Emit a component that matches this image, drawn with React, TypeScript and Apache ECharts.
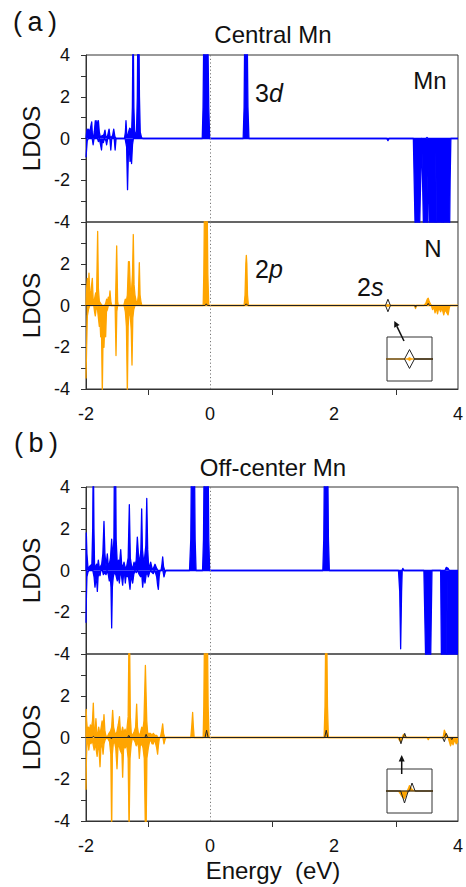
import React, { useEffect, useRef } from 'react';
import * as echarts from 'echarts';

// ---------- data ----------
const X_LABELS = [-2, 0, 2, 4];
const Y_LABELS = [4, 2, 0, -2, -4];

// (a) Central Mn : Mn 3d
const MN_A_UP = [[-2.0,0],[-1.99,0.3],[-1.98,0.45],[-1.97,0.25],[-1.955,0.45],[-1.94,0.15],[-1.925,0.55],[-1.908,0.8],[-1.895,0.1],[-1.88,0.05],[-1.865,0.35],[-1.85,0.85],[-1.84,0.3],[-1.825,0.85],[-1.812,0.4],[-1.8,0.85],[-1.785,0.3],[-1.77,0.1],[-1.755,0.05],[-1.74,0.15],[-1.725,0.1],[-1.71,0.2],[-1.694,0.4],[-1.68,0.1],[-1.665,0.05],[-1.65,0.15],[-1.628,0.45],[-1.613,0.1],[-1.59,0.05],[-1.57,0.15],[-1.553,0.45],[-1.535,0.1],[-1.515,0],[-1.38,0],[-1.365,0.3],[-1.355,0.85],[-1.343,0.2],[-1.328,0.1],[-1.31,0.35],[-1.295,0.5],[-1.28,0.45],[-1.265,0.2],[-1.252,1.5],[-1.24,6],[-1.228,1.5],[-1.215,0.3],[-1.2,0.1],[-1.185,0.4],[-1.172,2],[-1.162,6],[-1.148,6],[-1.138,2],[-1.125,0.3],[-1.105,0.05],[-1.085,0],[-0.125,0],[-0.112,1.5],[-0.1,5],[-0.065,7],[-0.035,5],[-0.02,1.5],[-0.005,0],[0.535,0],[0.55,1.5],[0.56,5],[0.58,7],[0.6,5],[0.612,1.5],[0.628,0],[3.48,0],[3.5,0.05],[3.52,0],[4,0]];
const MN_A_DN = [[-2.0,-0.9],[-1.99,-0.5],[-1.98,-0.1],[-1.96,0],[-1.9,0],[-1.885,-0.3],[-1.87,0],[-1.815,0],[-1.8,-0.15],[-1.785,0],[-1.765,-0.3],[-1.75,-0.55],[-1.737,-0.1],[-1.72,-0.2],[-1.705,0],[-1.68,-0.1],[-1.667,-0.3],[-1.65,0],[-1.615,0],[-1.6,-0.55],[-1.585,0],[-1.545,0],[-1.53,-0.55],[-1.515,0],[-1.37,0],[-1.345,-0.4],[-1.33,-2.45],[-1.317,-0.8],[-1.302,-0.3],[-1.29,-1.1],[-1.278,-0.5],[-1.265,-1.2],[-1.25,-0.3],[-1.235,0],[2.85,0],[2.87,-0.1],[2.89,0],[3.28,0],[3.3,-3],[3.32,-6],[3.37,-6],[3.39,-3],[3.415,0],[3.435,-3],[3.455,-6],[3.5,-6],[3.513,-2],[3.52,-1.5],[3.527,-2],[3.54,-6],[3.632,-6],[3.643,-0.6],[3.654,-6],[3.742,-6],[3.752,-1.0],[3.762,-6],[3.86,-6],[3.873,-2],[3.885,0],[4,0]];

// (a) Central Mn : N 2p
const N_A_UP = [[-2.0,0],[-1.99,0.8],[-1.978,1.3],[-1.965,0.6],[-1.952,1.55],[-1.94,0.7],[-1.925,0.5],[-1.912,0.9],[-1.898,1.3],[-1.885,0.3],[-1.871,0.2],[-1.857,0.4],[-1.844,0.6],[-1.83,0.4],[-1.812,3.55],[-1.8,0.8],[-1.785,0.2],[-1.765,0.1],[-1.74,0],[-1.7,0],[-1.683,0.1],[-1.667,0.3],[-1.652,0.2],[-1.64,0.4],[-1.625,0.3],[-1.613,0.7],[-1.6,0.2],[-1.586,0],[-1.525,0],[-1.505,2.85],[-1.49,0.2],[-1.479,0],[-1.39,0],[-1.366,0.3],[-1.35,0.2],[-1.333,0.5],[-1.315,2.1],[-1.301,2.1],[-1.285,0.8],[-1.27,0.5],[-1.25,1.5],[-1.237,3.4],[-1.225,1.0],[-1.21,0.5],[-1.19,0.2],[-1.172,0.1],[-1.155,0.5],[-1.14,2.05],[-1.128,0.5],[-1.115,0.2],[-1.1,0],[-0.11,0],[-0.1,1.5],[-0.09,4.5],[-0.065,5],[-0.045,4.5],[-0.035,1.5],[-0.02,0],[0.55,0],[0.565,0.5],[0.578,2.0],[0.586,2.4],[0.594,2.0],[0.605,0.5],[0.62,0],[2.85,0],[2.87,0.05],[2.89,0],[3.45,0],[3.48,0.1],[3.505,0.3],[3.52,0.35],[3.535,0.2],[3.56,0.05],[3.58,0],[4,0]];
const N_A_DN = [[-2.0,-3.5],[-1.99,-2.0],[-1.978,-0.5],[-1.96,-0.2],[-1.94,0],[-1.875,0],[-1.862,-0.3],[-1.85,-0.5],[-1.838,-0.2],[-1.822,0],[-1.803,-0.5],[-1.785,-1.0],[-1.775,-0.7],[-1.763,-1.5],[-1.75,-1.2],[-1.737,-4.2],[-1.725,-1.5],[-1.71,-2.0],[-1.697,-0.8],[-1.683,-1.5],[-1.67,-0.3],[-1.655,-0.2],[-1.64,0],[-1.53,0],[-1.516,-2.4],[-1.503,-0.3],[-1.49,0],[-1.385,0],[-1.365,-0.3],[-1.348,-1.0],[-1.333,-4.2],[-1.32,-1.0],[-1.305,-0.3],[-1.285,-0.5],[-1.27,-1.2],[-1.258,-2.85],[-1.245,-0.6],[-1.23,-0.2],[-1.21,0],[2.85,0],[2.87,-0.05],[2.89,0],[3.3,0],[3.315,-0.15],[3.33,0],[3.57,0],[3.59,-0.2],[3.61,-0.05],[3.63,-0.35],[3.65,-0.1],[3.67,-0.4],[3.69,-0.1],[3.72,-0.3],[3.74,-0.1],[3.77,-0.45],[3.79,-0.2],[3.81,-0.3],[3.84,-0.45],[3.86,-0.1],[3.875,0],[4,0]];
const S_A_UP = [[-2,0],[-0.08,0],[-0.06,0.08],[-0.04,0],[0.56,0],[0.585,0.08],[0.61,0],[2.83,0],[2.87,0.3],[2.91,0],[3.5,0],[3.52,0.1],[3.54,0],[4,0]];
const S_A_DN = [[2.83,0],[2.87,-0.3],[2.91,0],[3.3,0],[3.315,-0.08],[3.33,0]];

// (b) Off-center Mn : Mn 3d
const MN_B_UP = [[-2.0,0],[-1.995,1.8],[-1.985,0.8],[-1.97,0.2],[-1.955,0.1],[-1.94,0.2],[-1.905,0.3],[-1.892,2],[-1.882,6],[-1.872,2],[-1.862,0.3],[-1.845,0.1],[-1.83,0.3],[-1.817,0.1],[-1.801,0.5],[-1.785,0.1],[-1.765,0.2],[-1.747,0.3],[-1.728,0.8],[-1.71,2.35],[-1.695,0.8],[-1.677,0.2],[-1.656,0.8],[-1.64,0.2],[-1.624,0.3],[-1.605,0.6],[-1.586,1.5],[-1.57,0.5],[-1.55,1.5],[-1.54,6],[-1.524,6],[-1.514,1.5],[-1.495,0.3],[-1.475,0.5],[-1.462,0.2],[-1.44,1.0],[-1.425,0.3],[-1.409,0.1],[-1.387,0.4],[-1.366,0.1],[-1.344,0.2],[-1.32,0.6],[-1.301,3.15],[-1.285,0.6],[-1.265,0.2],[-1.247,0.1],[-1.225,0.4],[-1.21,0.2],[-1.19,0.5],[-1.172,1.6],[-1.155,0.8],[-1.135,0.3],[-1.115,1.0],[-1.102,2.95],[-1.09,1.0],[-1.07,0.4],[-1.055,0.6],[-1.035,1.2],[-1.02,3.45],[-1.005,1.0],[-0.99,0.2],[-0.975,0.2],[-0.957,0.4],[-0.935,0.1],[-0.914,0.1],[-0.887,0.3],[-0.86,0.1],[-0.84,0],[-0.79,0],[-0.775,0.3],[-0.763,0.65],[-0.75,0.2],[-0.73,0],[-0.33,0],[-0.31,1.5],[-0.3,5],[-0.275,7],[-0.25,5],[-0.24,1.5],[-0.225,0],[-0.12,0],[-0.105,1.5],[-0.095,5],[-0.06,7],[-0.03,5],[-0.02,1.5],[-0.005,0],[1.82,0],[1.835,1.5],[1.845,5],[1.873,7],[1.9,5],[1.91,1.5],[1.925,0],[3.095,0],[3.11,0.1],[3.13,0],[3.79,0],[3.81,0.15],[3.84,0.1],[3.86,0],[4,0]];
const MN_B_DN = [[-2.0,-2.5],[-1.993,-1.2],[-1.985,-0.3],[-1.97,-0.1],[-1.955,0],[-1.89,0],[-1.87,-0.3],[-1.855,-0.8],[-1.84,-0.4],[-1.825,-0.6],[-1.817,-1.0],[-1.805,-0.3],[-1.79,-0.1],[-1.774,-0.25],[-1.76,0],[-1.735,0],[-1.72,-0.2],[-1.7,-0.1],[-1.677,-0.2],[-1.66,0],[-1.64,-0.2],[-1.624,-0.5],[-1.61,-0.2],[-1.597,-0.8],[-1.586,-2.75],[-1.575,-0.8],[-1.56,-0.3],[-1.545,-0.1],[-1.52,-0.2],[-1.495,-0.5],[-1.48,-0.2],[-1.462,-0.6],[-1.45,-0.2],[-1.43,-0.2],[-1.409,-0.7],[-1.395,-0.2],[-1.38,-0.1],[-1.366,-0.6],[-1.352,-0.2],[-1.335,-0.3],[-1.318,-0.2],[-1.29,-0.9],[-1.275,-0.3],[-1.26,-0.4],[-1.247,-0.6],[-1.23,-0.2],[-1.21,0],[-1.19,-0.1],[-1.17,0],[-1.14,-0.2],[-1.12,-0.3],[-1.1,-0.2],[-1.086,-0.8],[-1.07,-0.3],[-1.048,-0.6],[-1.03,-0.2],[-1.01,-0.1],[-0.995,-0.3],[-0.975,-0.1],[-0.955,0],[-0.935,-0.1],[-0.914,-0.15],[-0.9,0],[-0.88,-0.1],[-0.86,-0.3],[-0.845,-0.7],[-0.833,-0.9],[-0.82,-0.3],[-0.806,0],[-0.76,0],[-0.742,-0.3],[-0.725,-0.1],[-0.71,0],[3.04,0],[3.06,-1],[3.075,-3.75],[3.09,-1],[3.1,0],[3.45,0],[3.47,-3],[3.49,-6],[3.55,-6],[3.565,-3],[3.58,0],[3.72,0],[3.735,-5],[3.75,-6],[3.815,-6],[3.825,-0.3],[3.835,-6],[4.0,-6]];

// (b) Off-center Mn : N 2p
const N_B_UP = [[-2.0,0],[-1.997,1.35],[-1.99,0.8],[-1.975,0.3],[-1.96,0.5],[-1.945,0.3],[-1.93,0.6],[-1.915,0.4],[-1.895,0.8],[-1.882,1.65],[-1.87,0.5],[-1.855,0.2],[-1.84,0.9],[-1.825,0.2],[-1.81,0.1],[-1.795,0.5],[-1.78,0.2],[-1.765,0.3],[-1.74,0.8],[-1.725,0.3],[-1.71,1.1],[-1.695,0.3],[-1.68,0.1],[-1.66,0],[-1.63,0.2],[-1.605,0.3],[-1.586,0.5],[-1.57,1.3],[-1.555,0.5],[-1.54,0.3],[-1.52,0.1],[-1.5,0.3],[-1.48,0.6],[-1.46,1.0],[-1.445,0.3],[-1.43,0.2],[-1.41,0.5],[-1.39,0.2],[-1.37,0.4],[-1.35,0.1],[-1.32,1.0],[-1.308,4.5],[-1.296,4.5],[-1.285,1.0],[-1.27,0.2],[-1.25,0.1],[-1.22,0.3],[-1.2,0.5],[-1.183,1.6],[-1.17,0.5],[-1.15,0.1],[-1.125,0.2],[-1.1,0.5],[-1.085,0.3],[-1.065,0.8],[-1.042,3.45],[-1.032,3.45],[-1.02,0.8],[-1.005,0.2],[-0.985,0.2],[-0.96,0.2],[-0.935,0.1],[-0.914,0.2],[-0.89,0.1],[-0.86,0.1],[-0.84,0],[-0.8,0],[-0.78,0.3],[-0.763,0.65],[-0.75,0.2],[-0.73,0],[-0.31,0],[-0.295,0.5],[-0.28,1.2],[-0.268,0.5],[-0.255,0],[-0.11,0],[-0.1,1.5],[-0.09,4.5],[-0.06,5],[-0.04,4.5],[-0.03,1.5],[-0.015,0],[1.84,0],[1.855,1.5],[1.865,4.5],[1.875,5],[1.885,4.5],[1.895,1.5],[1.91,0],[3.1,0],[3.12,0.15],[3.14,0.05],[3.16,0],[3.76,0],[3.78,0.35],[3.8,0.2],[3.82,0.1],[3.84,0],[4,0]];
const N_B_DN = [[-2.0,-2.5],[-1.993,-1.0],[-1.985,-0.3],[-1.97,-0.1],[-1.955,-0.6],[-1.94,-0.2],[-1.92,-0.3],[-1.9,-0.1],[-1.868,-0.6],[-1.855,-0.3],[-1.84,-0.5],[-1.82,-0.9],[-1.805,-0.3],[-1.79,-0.6],[-1.774,-1.4],[-1.76,-0.5],[-1.74,-0.3],[-1.725,-0.8],[-1.71,-0.3],[-1.69,-0.1],[-1.66,0],[-1.62,-0.2],[-1.6,-0.8],[-1.586,-4.5],[-1.575,-0.8],[-1.56,-0.3],[-1.54,-0.2],[-1.52,-0.5],[-1.5,-1.5],[-1.485,-0.5],[-1.47,-0.3],[-1.45,-0.6],[-1.42,-0.8],[-1.409,-1.9],[-1.395,-0.6],[-1.375,-0.3],[-1.366,-0.5],[-1.345,-0.3],[-1.32,-1.0],[-1.305,-4.5],[-1.29,-1.0],[-1.27,-0.3],[-1.25,0],[-1.21,-0.2],[-1.19,-0.4],[-1.17,-0.2],[-1.15,-0.5],[-1.14,-1.0],[-1.125,-0.4],[-1.1,-0.3],[-1.08,-0.5],[-1.06,-1.0],[-1.042,-4.5],[-1.03,-4.5],[-1.018,-1.0],[-0.995,-0.5],[-0.975,-0.2],[-0.957,-0.1],[-0.935,-0.3],[-0.914,-0.3],[-0.9,-0.1],[-0.885,-0.2],[-0.86,-0.5],[-0.845,-0.8],[-0.833,-0.4],[-0.815,0],[-0.76,0],[-0.742,-0.3],[-0.725,-0.1],[-0.71,0],[3.03,0],[3.06,-0.15],[3.08,-0.2],[3.1,-0.05],[3.12,0],[3.5,0],[3.52,-0.1],[3.54,0],[3.84,0],[3.86,-0.2],[3.88,-0.4],[3.9,-0.2],[3.92,-0.35],[3.95,-0.1],[3.97,-0.3],[4,-0.2]];
const S_B_UP = [[-2,0],[-1.9,0],[-1.88,0.05],[-1.86,0],[-1.33,0],[-1.31,0.1],[-1.29,0],[-1.05,0],[-1.03,0.15],[-1.01,0],[-0.08,0],[-0.055,0.35],[-0.03,0],[1.85,0],[1.875,0.35],[1.9,0],[3.12,0],[3.14,0.2],[3.165,0],[3.78,0],[3.81,0.2],[3.84,0],[4,0]];
const S_B_DN = [[-1.61,0],[-1.59,-0.06],[-1.57,0],[3.05,0],[3.08,-0.3],[3.11,0],[3.75,0],[3.78,-0.2],[3.8,0],[3.88,0],[3.9,-0.1],[3.92,0]];

// ---------- styles ----------
const FONT = '"Liberation Sans", Arial, Helvetica, sans-serif';
const BLUE = '#0000ff';
const ORANGE = '#ffa500';
const AXIS = '#333';
const TXT = '#111';

const MAIN_TOPS = [55, 222, 487, 654];
const PLOT_LEFT = 86;
const PLOT_W = 372;
const PLOT_H = 167;

function App() {
  const ref = useRef<HTMLDivElement>(null);
  useEffect(() => {
    document.body.style.margin = '0';
    if (!ref.current) return;
    const chart = echarts.init(ref.current, undefined, { renderer: 'svg' });

    const grids: any[] = MAIN_TOPS.map((t) => ({
      left: PLOT_LEFT, top: t, width: PLOT_W, height: PLOT_H,
      show: true, borderColor: AXIS, borderWidth: 1, containLabel: false,
    }));
    grids.push({ left: 387, top: 337, width: 45, height: 44, show: true, borderColor: AXIS, borderWidth: 1, backgroundColor: '#fff' });
    grids.push({ left: 387, top: 769, width: 45, height: 44, show: true, borderColor: AXIS, borderWidth: 1, backgroundColor: '#fff' });

    const mainX = (i: number, labels: boolean) => ({
      type: 'value', gridIndex: i, min: -2, max: 4, interval: 2, position: 'bottom',
      axisLine: { show: labels, onZero: false, lineStyle: { color: AXIS, width: 1 } },
      axisTick: { show: labels, length: 0.01, lineStyle: { color: 'rgba(0,0,0,0)', width: 0 } },
      minorTick: { show: labels, splitNumber: 2, length: 6, lineStyle: { color: AXIS, width: 1 } },
      splitLine: { show: false }, minorSplitLine: { show: false },
      axisLabel: {
        show: labels, fontSize: 18, color: TXT, fontFamily: FONT, margin: 16,
        formatter: (v: number) => (X_LABELS.includes(v) ? String(v) : ''),
      },
    });
    const mainY = (i: number, hideTop: boolean) => ({
      type: 'value', gridIndex: i, min: -4, max: 4, interval: 2, position: 'left',
      name: 'LDOS', nameLocation: 'middle', nameGap: 40,
      nameTextStyle: { fontSize: 24, color: TXT, fontFamily: FONT },
      axisLine: { show: true, onZero: false, lineStyle: { color: AXIS, width: 1 } },
      axisTick: { show: true, length: 5, lineStyle: { color: AXIS } },
      minorTick: { show: true, splitNumber: 2, length: 5, lineStyle: { color: AXIS } },
      splitLine: { show: false }, minorSplitLine: { show: false },
      axisLabel: {
        fontSize: 18, color: TXT, fontFamily: FONT, margin: 16,
        formatter: (v: number) => (hideTop && v === 4 ? '' : Y_LABELS.includes(v) ? String(v) : ''),
      },
    });
    const insetX = (i: number, min: number, max: number) => ({
      type: 'value', gridIndex: i, min, max,
      axisLine: { show: false, onZero: false }, axisTick: { show: false }, axisLabel: { show: false }, splitLine: { show: false },
    });
    const insetY = (i: number, r: number) => ({
      type: 'value', gridIndex: i, min: -r, max: r,
      axisLine: { show: false, onZero: false }, axisTick: { show: false }, axisLabel: { show: false }, splitLine: { show: false },
    });

    const xAxis = [mainX(0, false), mainX(1, true), mainX(2, false), mainX(3, true), insetX(4, 2.69, 3.05), insetX(5, 2.94, 3.3)];
    const yAxis = [mainY(0, false), mainY(1, true), mainY(2, false), mainY(3, true), insetY(4, 0.7), insetY(5, 0.55)];

    const fermi = {
      silent: true, symbol: ['none', 'none'], label: { show: false },
      lineStyle: { type: [1.2, 2.4], color: '#777', width: 1 },
      emphasis: { disabled: true },
      data: [{ xAxis: 0 }],
    };
    const area = (data: number[][], color: string, idx: number, mark = false, w = 1.3) => ({
      type: 'line', xAxisIndex: idx, yAxisIndex: idx, data, symbol: 'none', showSymbol: false,
      lineStyle: { color, width: w, join: 'round' }, itemStyle: { color },
      areaStyle: { color, opacity: 1, origin: 'auto' }, silent: true, z: 2,
      ...(mark ? { markLine: fermi } : {}),
    });
    const line = (data: number[][], idx: number) => ({
      type: 'line', xAxisIndex: idx, yAxisIndex: idx, data, symbol: 'none', showSymbol: false,
      lineStyle: { color: '#222', width: 1 }, itemStyle: { color: '#222' }, silent: true, z: 3,
    });

    const series = [
      area(MN_A_UP, BLUE, 0, true), area(MN_A_DN, BLUE, 0),
      area(N_A_UP, ORANGE, 1, true), area(N_A_DN, ORANGE, 1), line(S_A_UP, 1), line(S_A_DN, 1),
      area(MN_B_UP, BLUE, 2, true), area(MN_B_DN, BLUE, 2),
      area(N_B_UP, ORANGE, 3, true), area(N_B_DN, ORANGE, 3), line(S_B_UP, 3), line(S_B_DN, 3),
      area(N_A_UP, ORANGE, 4, false, 0.8), area(N_A_DN, ORANGE, 4, false, 0.8), line(S_A_UP, 4), line(S_A_DN, 4),
      area(N_B_UP, ORANGE, 5, false, 0.8), area(N_B_DN, ORANGE, 5, false, 0.8), line(S_B_UP, 5), line(S_B_DN, 5),
    ];

    const txt = (text: string, x: number, y: number, size: number, align = 'center', rich?: any) => ({
      type: 'text', x, y, silent: true,
      style: { text, fontSize: size, fontFamily: FONT, fill: TXT, align, verticalAlign: 'middle', rich },
    });
    const itRich = (size: number) => ({
      n: { fontSize: size, fontFamily: FONT, fill: TXT },
      i: { fontSize: size, fontFamily: FONT, fontStyle: 'italic', fill: TXT },
    });

    const graphic = [
      txt('(\u2009a\u2009)', 35, 22, 27),
      txt('Central Mn', 273, 34, 24),
      txt('Mn', 430, 80, 24),
      txt('{n|3}{i|d}', 255, 93, 25, 'left', itRich(25)),
      txt('N', 433, 248, 24),
      txt('{n|2}{i|p}', 255, 269, 25, 'left', itRich(25)),
      txt('{n|2}{i|s}', 357, 287, 25, 'left', itRich(25)),
      txt('(\u2009b\u2009)', 36, 443, 27),
      txt('Off-center Mn', 273, 467, 24),
      txt('Energy  (eV)', 273, 870, 24),
      { type: 'line', silent: true, shape: { x1: 404, y1: 341, x2: 396.9, y2: 326.4 }, style: { stroke: '#111', lineWidth: 1.5 } },
      { type: 'polygon', silent: true, shape: { points: [[394.3, 321], [399.6, 325.1], [394.2, 327.7]] }, style: { fill: '#111' } },
      { type: 'line', silent: true, shape: { x1: 401.7, y1: 774, x2: 401.7, y2: 761 }, style: { stroke: '#111', lineWidth: 1.5 } },
      { type: 'polygon', silent: true, shape: { points: [[401.7, 755], [398.7, 761.5], [404.7, 761.5]] }, style: { fill: '#111' } },
    ];

    chart.setOption({
      animation: false,
      backgroundColor: '#fff',
      grid: grids,
      xAxis,
      yAxis,
      series,
      graphic,
    });
    return () => chart.dispose();
  }, []);
  return <div ref={ref} style={{ width: 466, height: 887 }} />;
}

export default App;
